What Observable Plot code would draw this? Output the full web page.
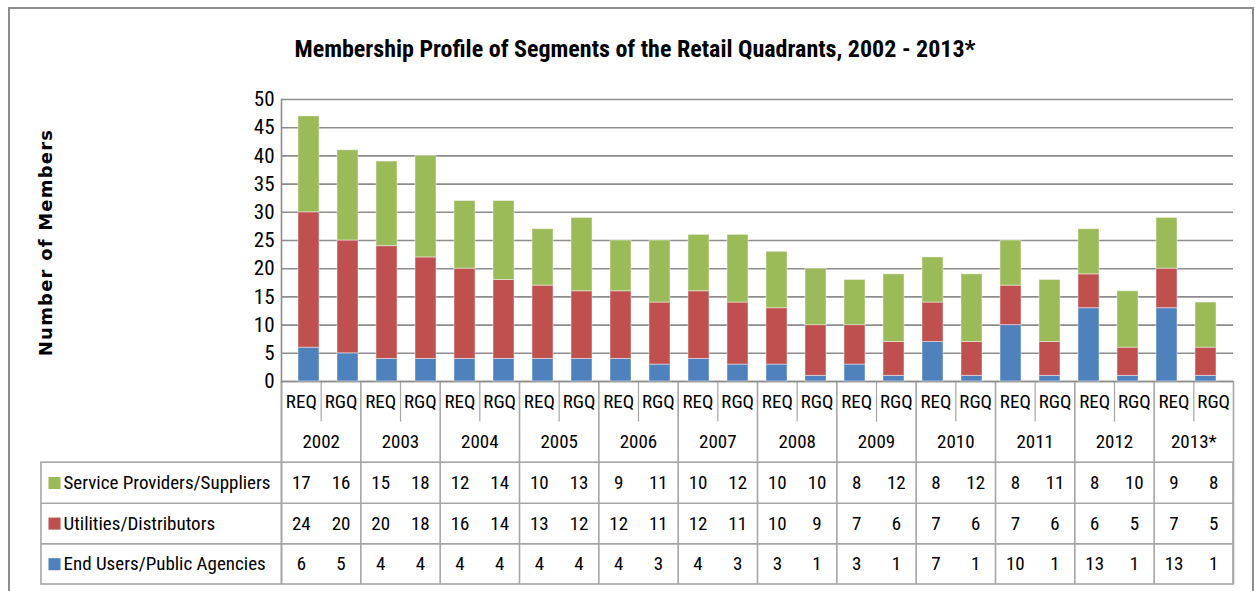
<!DOCTYPE html>
<html><head><meta charset="utf-8">
<script src="https://cdn.jsdelivr.net/npm/d3@7"></script>
<script src="https://cdn.jsdelivr.net/npm/@observablehq/plot@0.6"></script>
<style>
body{margin:0;background:#fff;}
#wrap{position:relative;width:1255px;height:591px;overflow:hidden;font-family:"Liberation Sans Narrow","Arial Narrow","Roboto Condensed",sans-serif;}
#border{position:absolute;left:8px;top:7px;width:1246px;height:620px;border:2px solid #8d8d8d;box-sizing:border-box;}
#title{position:absolute;left:0;width:1270px;top:35px;text-align:center;font-weight:bold;font-size:24px;color:#000;}
#wrap svg{position:absolute;left:0;top:0;overflow:visible;}
.ylab text{letter-spacing:1.2px;}
</style></head><body>
<div id="wrap"><div id="border"></div><div id="title">Membership Profile of Segments of the Retail Quadrants, 2002 - 2013*</div></div>
<script>
const years = ["2002","2003","2004","2005","2006","2007","2008","2009","2010","2011","2012","2013*"];
const quadrants = ["REQ","RGQ"];
const segments = ["Service Providers/Suppliers","Utilities/Distributors","End Users/Public Agencies"];
const colors = ["#9BBB59","#C0504D","#4F81BD"];
const serviceProviders = [17,16,15,18,12,14,10,13,9,11,10,12,10,10,8,12,8,12,8,11,8,10,9,8];
const utilities = [24,20,20,18,16,14,13,12,12,11,12,11,10,9,7,6,7,6,7,6,6,5,7,5];
const endUsers = [6,5,4,4,4,4,4,4,4,3,4,3,3,1,3,1,7,1,10,1,13,1,13,1];
const yTicks = [0,5,10,15,20,25,30,35,40,45,50];

const FONT = '"Liberation Sans Narrow","Arial Narrow","Roboto Condensed",sans-serif';
const GRID = "#8d8d8d";
const LINE = "#a6a6a6";

const columns = years.flatMap(y => quadrants.map(q => ({year: y, quadrant: q, key: y + " " + q})));
const keys = columns.map(c => c.key);
const seriesValues = [serviceProviders, utilities, endUsers];

// stacking order: End Users at bottom, then Utilities, then Service Providers
const bars = [];
[2, 1, 0].forEach(s => columns.forEach((c, i) => bars.push({key: c.key, segment: segments[s], value: seriesValues[s][i]})));

const chart = Plot.plot({
  width: 1255, height: 591,
  marginTop: 99, marginBottom: 210, marginLeft: 281, marginRight: 22,
  style: {fontFamily: FONT, background: "transparent"},
  x: {domain: keys, paddingInner: 0.47, paddingOuter: 0.235, axis: null},
  y: {domain: [0, 50], axis: null},
  color: {domain: segments, range: colors},
  marks: [
    Plot.gridY(yTicks, {stroke: GRID, strokeOpacity: 1, strokeWidth: 1.6}),
    Plot.barY(bars, {x: "key", y: "value", fill: "segment", stroke: "#fff", strokeOpacity: 0.45, strokeWidth: 1}),
    Plot.axisY(yTicks, {tickSize: 0, tickPadding: 7, fontSize: 21, fill: "#000", label: null}),
    Plot.frame({anchor: "left", stroke: GRID, strokeWidth: 1.6}),
    Plot.text(["Number of Members"], {frameAnchor: "left", dx: -235, dy: 2, rotate: -90, textAnchor: "middle", fontWeight: "bold", fontSize: 18, fontFamily: "DejaVu Sans", fill: "#000", className: "ylab"})
  ]
});

const rows = [2.5, 3.5, 4.5];
const cells = [];
seriesValues.forEach((vals, s) => vals.forEach((v, i) => cells.push({x: i + 0.5, y: rows[s], v})));

const table = Plot.plot({
  width: 1255, height: 591,
  marginTop: 381, marginBottom: 7, marginLeft: 41, marginRight: 22,
  style: {fontFamily: FONT, background: "transparent"},
  x: {domain: [0, 24], range: [281, 1233], axis: null},
  y: {domain: [0, 5], range: [381, 584], axis: null},
  color: {domain: segments, range: colors},
  marks: [
    Plot.ruleY([0], {x1: 0, x2: 24, stroke: GRID, strokeWidth: 1.6}),
    Plot.rect([0], {y1: 2, y2: 5, fill: "none", stroke: LINE, strokeWidth: 1.6}),
    Plot.ruleY([3, 4], {stroke: LINE, strokeWidth: 1.6}),
    Plot.ruleX([0, 24], {y1: 0, y2: 5, stroke: LINE, strokeWidth: 1.6}),
    Plot.ruleX(years.map((_, k) => 2 * k), {y1: 0, y2: 5, stroke: LINE, strokeWidth: 1.6}),
    Plot.ruleX(years.map((_, k) => 2 * k + 1), {y1: 0, y2: 1, stroke: LINE, strokeWidth: 1.2}),
    Plot.text(columns, {x: (d, i) => i + 0.5, y: 0.5, text: "quadrant", fontSize: 19, fill: "#000"}),
    Plot.text(years, {x: (d, i) => 2 * i + 1, y: 1.5, text: d => d, fontSize: 19, fill: "#000"}),
    Plot.text(cells, {x: "x", y: "y", text: "v", fontSize: 19, fill: "#000"}),
    Plot.dot(segments, {y: (d, i) => rows[i], fill: d => d, frameAnchor: "left", dx: 13, symbol: "square", r: 6.8}),
    Plot.text(segments, {y: (d, i) => rows[i], text: d => d, frameAnchor: "left", dx: 22, textAnchor: "start", fontSize: 19, fill: "#000"})
  ]
});

const wrap = document.getElementById("wrap");
wrap.appendChild(table);
wrap.appendChild(chart);
</script>
</body></html>
